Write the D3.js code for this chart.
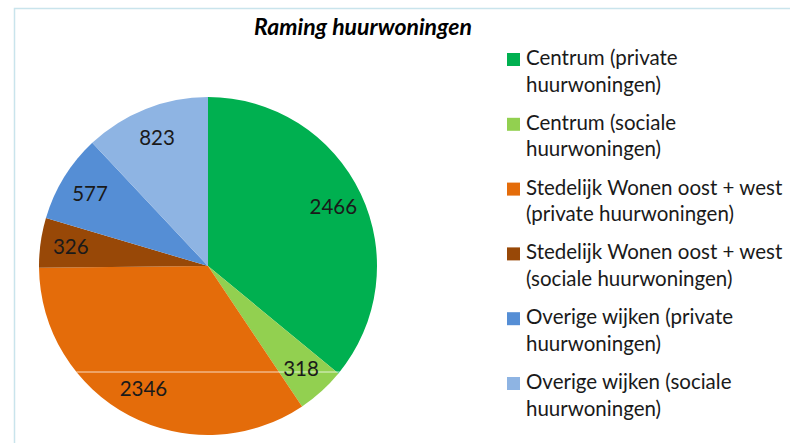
<!DOCTYPE html>
<html>
<head>
<meta charset="utf-8">
<script src="https://cdn.jsdelivr.net/npm/d3@7/dist/d3.min.js"></script>
<style>
  html, body { margin: 0; padding: 0; background: #fff; }
  svg { display: block; }
  text { font-family: Lato, "Open Sans", sans-serif; fill: #1a1a1a; }
</style>
</head>
<body>
<svg width="790" height="443"></svg>
<script>
// data
const categories = [
  'Centrum (private huurwoningen)',
  'Centrum (sociale huurwoningen)',
  'Stedelijk Wonen oost + west (private huurwoningen)',
  'Stedelijk Wonen oost + west (sociale huurwoningen)',
  'Overige wijken (private huurwoningen)',
  'Overige wijken (sociale huurwoningen)'
];
const legendLines = [
  ['Centrum (private', 'huurwoningen)'],
  ['Centrum (sociale', 'huurwoningen)'],
  ['Stedelijk Wonen oost + west', '(private huurwoningen)'],
  ['Stedelijk Wonen oost + west', '(sociale huurwoningen)'],
  ['Overige wijken (private', 'huurwoningen)'],
  ['Overige wijken (sociale', 'huurwoningen)']
];
const values = [2466, 318, 2346, 326, 577, 823];
const colors = ['#00b050', '#92d050', '#e46c0a', '#984807', '#558ed5', '#8eb4e3'];

const svg = d3.select('svg');

// frame
svg.append('path')
  .attr('d', 'M14.5,443 V8.5 H790')
  .attr('fill', 'none')
  .attr('stroke', '#c9e4ec')
  .attr('stroke-width', 1.5);

// title
svg.append('text')
  .attr('x', 363)
  .attr('y', 35)
  .attr('text-anchor', 'middle')
  .style('font-weight', 'bold')
  .style('font-style', 'italic')
  .style('font-size', '23px')
  .style('fill', '#000')
  .text('Raming huurwoningen');

const cx = 208, cy = 266, radius = 169;

const pie = d3.pie().sort(null).value(d => d);
const arcs = pie(values);
const arc = d3.arc().innerRadius(0).outerRadius(radius);
const labelArc = d3.arc().innerRadius(radius * 0.82).outerRadius(radius * 0.82);

const g = svg.append('g').attr('transform', `translate(${cx},${cy})`);

g.selectAll('path.slice')
  .data(arcs)
  .join('path')
  .classed('slice', true)
  .attr('d', arc)
  .attr('fill', (d, i) => colors[i]);

// thin white scan line across the pie (as in the reference image)
const lineY = 106;
const half = Math.sqrt(radius * radius - lineY * lineY);
g.append('line')
  .attr('x1', -half).attr('x2', half)
  .attr('y1', lineY).attr('y2', lineY)
  .attr('stroke', '#fff')
  .attr('stroke-opacity', 0.75)
  .attr('stroke-width', 1);

g.selectAll('text.label')
  .data(arcs)
  .join('text')
  .classed('label', true)
  .attr('transform', d => `translate(${labelArc.centroid(d)})`)
  .attr('text-anchor', 'middle')
  .attr('dy', '0.36em')
  .style('font-size', '20.5px')
  .text(d => d.data);

// legend
const legend = svg.append('g').attr('transform', 'translate(507,65)');
const item = legend.selectAll('g.item')
  .data(categories)
  .join('g')
  .classed('item', true)
  .attr('transform', (d, i) => `translate(0,${i * 64.8})`);

item.append('rect')
  .attr('x', 0)
  .attr('y', -12)
  .attr('width', 13)
  .attr('height', 13)
  .attr('fill', (d, i) => colors[i]);

item.append('text')
  .style('font-size', '20.5px')
  .selectAll('tspan')
  .data((d, i) => legendLines[i])
  .join('tspan')
  .attr('x', 19)
  .attr('y', (d, j) => j * 26.5)
  .text(d => d);
</script>
</body>
</html>
